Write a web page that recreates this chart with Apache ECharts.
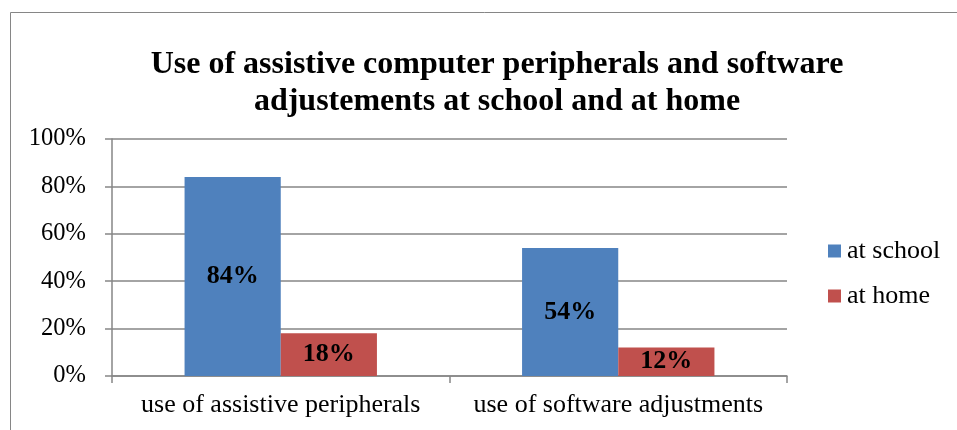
<!DOCTYPE html>
<html>
<head>
<meta charset="utf-8">
<script src="https://cdn.jsdelivr.net/npm/echarts@6/dist/echarts.min.js"></script>
<style>
  html, body { margin: 0; padding: 0; background: #fff; }
  #chart { width: 957px; height: 430px; }
</style>
</head>
<body>
<div id="chart"></div>
<script>
// Categories and series values (percent)
const categories = ['use of assistive peripherals', 'use of software adjustments'];
const atSchool = [84, 54];
const atHome = [18, 12];
const yTicks = [0, 20, 40, 60, 80, 100];

const serif = '"Liberation Serif", "Times New Roman", serif';
const axisGray = '#868686';

const chart = echarts.init(document.getElementById('chart'), null, { renderer: 'canvas' });

const labelStyle = {
  show: true,
  position: 'inside',
  formatter: p => p.value + '%',
  fontFamily: serif,
  fontWeight: 'bold',
  fontSize: 26,
  color: '#000'
};

chart.setOption({
  animation: false,
  backgroundColor: '#fff',
  graphic: [{
    type: 'rect',
    shape: { x: 10.5, y: 12.5, width: 980, height: 440 },
    style: { fill: 'none', stroke: axisGray, lineWidth: 1 },
    silent: true
  }],
  title: {
    text: 'Use of assistive computer peripherals and software\nadjustements at school and at home',
    left: 492,
    textAlign: 'center',
    top: 41,
    textStyle: {
      fontFamily: serif,
      fontWeight: 'bold',
      fontSize: 32,
      lineHeight: 37,
      color: '#000'
    }
  },
  legend: {
    orient: 'vertical',
    left: 823,
    top: 233,
    itemWidth: 13,
    itemHeight: 13,
    itemGap: 19,
    icon: 'rect',
    textStyle: { fontFamily: serif, fontSize: 26, color: '#000', padding: [0, 0, 0, 1] },
    data: ['at school', 'at home']
  },
  grid: { left: 112, right: 170, top: 139, bottom: 54, containLabel: false },
  xAxis: {
    type: 'category',
    data: categories,
    axisLine: { lineStyle: { color: axisGray, width: 1.5 } },
    axisTick: { show: true, length: 7, lineStyle: { color: axisGray, width: 1.5 } },
    axisLabel: { interval: 0, fontFamily: serif, fontSize: 26, color: '#000', margin: 16 }
  },
  yAxis: {
    type: 'value',
    min: yTicks[0],
    max: yTicks[yTicks.length - 1],
    interval: 20,
    axisLine: { show: true, lineStyle: { color: axisGray, width: 1.5 } },
    axisTick: { show: true, length: 7, lineStyle: { color: axisGray, width: 1.5 } },
    splitLine: { lineStyle: { color: axisGray, width: 1.5 } },
    axisLabel: {
      fontFamily: serif, fontSize: 24.5, color: '#000', margin: 26,
      formatter: v => v + '%'
    }
  },
  series: [
    {
      name: 'at school',
      type: 'bar',
      data: atSchool,
      barGap: '0%',
      barCategoryGap: '43%',
      itemStyle: { color: '#4F81BD' },
      label: labelStyle
    },
    {
      name: 'at home',
      type: 'bar',
      data: atHome,
      itemStyle: { color: '#C0504D' },
      label: labelStyle
    }
  ]
});
</script>
</body>
</html>
